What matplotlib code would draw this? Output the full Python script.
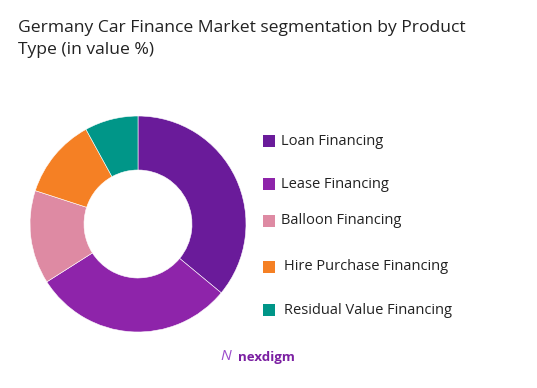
import matplotlib.pyplot as plt
from matplotlib.patches import Rectangle

# data
categories = ['Loan Financing', 'Lease Financing', 'Balloon Financing',
              'Hire Purchase Financing', 'Residual Value Financing']
shares = [36, 30, 14, 12, 8]
colors = ['#6A1B9A', '#8E24AA', '#DE8AA3', '#F58024', '#009688']

plt.rcParams['font.family'] = ['Open Sans', 'DejaVu Sans']

fig = plt.figure(figsize=(5.37, 3.88), dpi=100)
W, H = 537, 388

# donut
cx, cy, r = 138, 224, 108
ax = fig.add_axes([(cx - r) / W, (H - cy - r) / H, 2 * r / W, 2 * r / H])
ax.pie(shares, colors=colors, startangle=90, counterclock=False,
       wedgeprops=dict(width=0.5, edgecolor='white', linewidth=0.4))
ax.set_xlim(-1, 1)
ax.set_ylim(-1, 1)
ax.set_aspect('equal')
ax.axis('off')

# title
fig.text(18 / W, 1 - 28 / H, 'Germany Car Finance Market segmentation by Product',
         fontsize=12.6, color='#222222', va='center', ha='left')
fig.text(18 / W, 1 - 50 / H, 'Type (in value %)',
         fontsize=12.6, color='#222222', va='center', ha='left')

# legend (uneven spacing like the original)
leg_y = [141, 184, 221, 267, 310]
leg_x = [281, 281, 281, 284, 284]
for lab, col, y, x in zip(categories, colors, leg_y, leg_x):
    fig.patches.append(Rectangle((263 / W, 1 - (y + 6) / H), 12 / W, 12 / H,
                                 transform=fig.transFigure, facecolor=col,
                                 edgecolor='none'))
    fig.text(x / W, 1 - y / H, lab, fontsize=10.5, color='#222222',
             va='center', ha='left')

# logo
fig.text(226 / W, 1 - 357 / H, 'N', fontsize=11, color='#9C4DCC',
         va='center', ha='center', style='italic')
fig.text(238 / W, 1 - 357 / H, 'nexdigm', fontsize=9.5, color='#7B1FA2',
         va='center', ha='left', fontweight='bold')

fig.savefig('out.png', dpi=100, facecolor='white')
